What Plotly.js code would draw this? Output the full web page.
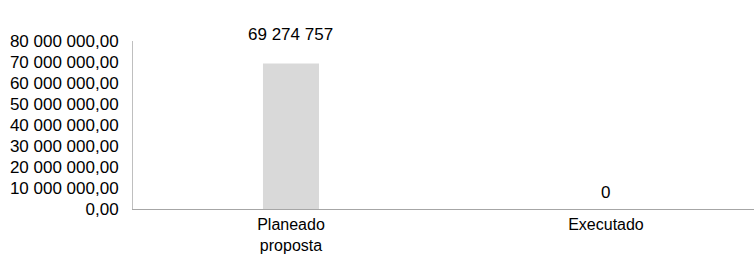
<!DOCTYPE html>
<html>
<head>
<meta charset="utf-8">
<script src="https://cdn.plot.ly/plotly-3.0.1.min.js"></script>
<style>html,body{margin:0;padding:0;background:#fff;}#chart{width:754px;height:254px;}</style>
</head>
<body>
<div id="chart"></div>
<script>
const categories = ["Planeado<br>proposta", "Executado"];
const values = [69274757, 0];
const labelShift = [29, 17];

function fmt(v) {
  return String(Math.round(v)).replace(/\B(?=(\d{3})+(?!\d))/g, " ");
}

const font = {family: "Liberation Sans, Arial, sans-serif", size: 17, color: "#000"};
const xfont = {family: "Liberation Sans, Arial, sans-serif", size: 16, color: "#000"};

const trace = {
  type: "bar",
  x: categories,
  y: values,
  width: 0.178,
  marker: {color: "#d9d9d9", line: {width: 0}},
  hoverinfo: "none"
};

const annotations = categories.map((c, i) => ({
  x: c, y: values[i], xref: "x", yref: "y",
  text: fmt(values[i]), showarrow: false,
  yanchor: "middle", xanchor: "center", yshift: labelShift[i],
  font: font
}));

const layout = {
  width: 754, height: 254,
  margin: {l: 133, r: 0, t: 41, b: 45},
  paper_bgcolor: "#fff", plot_bgcolor: "#fff",
  separators: ", ",
  showlegend: false,
  font: font,
  xaxis: {
    type: "category",
    range: [-0.5016, 1.47],
    showline: true, linecolor: "#a6a6a6", linewidth: 1,
    showgrid: false, zeroline: false, ticks: "",
    tickfont: xfont, ticklabelstandoff: 1
  },
  yaxis: {
    range: [0, 80000000],
    tickvals: [0,10000000,20000000,30000000,40000000,50000000,60000000,70000000,80000000],
    tickformat: ",.2f",
    showline: true, linecolor: "#bfbfbf", linewidth: 1,
    showgrid: false, zeroline: false, ticks: "",
    tickfont: font, ticklabelstandoff: 10
  },
  annotations: annotations
};

Plotly.newPlot("chart", [trace], layout, {staticPlot: true, displayModeBar: false});
</script>
</body>
</html>
